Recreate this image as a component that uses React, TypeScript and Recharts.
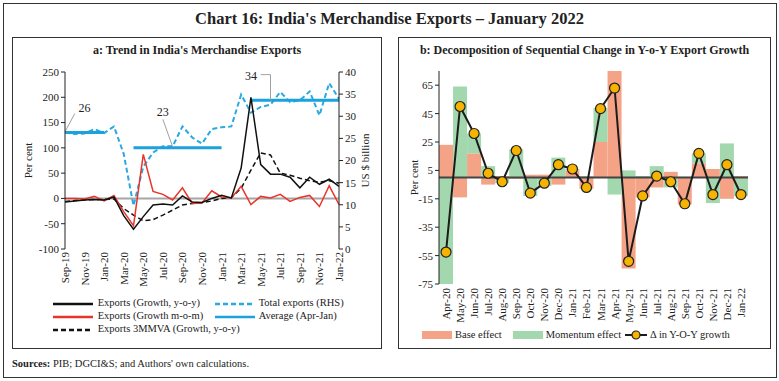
import {
  Bar,
  ComposedChart,
  Line,
  LineChart,
  ReferenceDot,
  ReferenceLine,
  XAxis,
  YAxis,
} from "recharts";

const FONT = '"Liberation Serif", "Times New Roman", serif';

// panel a: Sep-19 .. Jan-22
const trendMonths = [
  "Sep-19", "Oct-19", "Nov-19", "Dec-19", "Jan-20", "Feb-20", "Mar-20", "Apr-20",
  "May-20", "Jun-20", "Jul-20", "Aug-20", "Sep-20", "Oct-20", "Nov-20", "Dec-20",
  "Jan-21", "Feb-21", "Mar-21", "Apr-21", "May-21", "Jun-21", "Jul-21", "Aug-21",
  "Sep-21", "Oct-21", "Nov-21", "Dec-21", "Jan-22",
];
const growthYoy = [-7, -5, -3, -2, -3, 3, -34, -61, -36, -13, -11, -13, 5, -7, -8, 0, 6, 1, 60, 200, 67, 48, 48, 42, 21, 42, 28, 38, 24];
const growthMom = [0, 0, -1, 4, -5, 6, -26, -54, 87, 14, 8, -3, 21, -10, -9, 15, 3, 1, 24, -12, 4, 1, 8, -6, 2, 6, -16, 25, -12];
const growth3mmva = [-6, -4, -3, -2, -2, -1, -20, -33, -44, -42, -33, -23, -13, -10, -8, -5, 0, 2, 20, 56, 90, 86, 50, 46, 40, 35, 32, 35, 30];
const totalExports = [26.3, 26.0, 26.1, 27.1, 26.2, 27.7, 21.5, 9.8, 18.6, 21.8, 23.2, 23.2, 27.7, 25.2, 23.8, 27.1, 27.5, 27.7, 34.9, 30.8, 32.1, 32.6, 35.5, 33.2, 33.6, 35.6, 30.2, 37.5, 33.9];
const averageAprJan = [
  26.3, 26.3, 26.3, 26.3, 26.3, null, null,
  22.9, 22.9, 22.9, 22.9, 22.9, 22.9, 22.9, 22.9, 22.9, 22.9, null, null,
  33.6, 33.6, 33.6, 33.6, 33.6, 33.6, 33.6, 33.6, 33.6, 33.6,
];
const leftTicks = [-100, -50, 0, 50, 100, 150, 200, 250];
const rightTicks = [0, 5, 10, 15, 20, 25, 30, 35, 40];

// panel b: Apr-20 .. Jan-22
const decompMonths = [
  "Apr-20", "May-20", "Jun-20", "Jul-20", "Aug-20", "Sep-20", "Oct-20", "Nov-20",
  "Dec-20", "Jan-21", "Feb-21", "Mar-21", "Apr-21", "May-21", "Jun-21", "Jul-21",
  "Aug-21", "Sep-21", "Oct-21", "Nov-21", "Dec-21", "Jan-22",
];
const baseEffect = [23, -14, 17, -5, 1, -1, 2, 2, -5, 5, -8, 25, 75, -64, -14, -7, 4, -19, 10, 6, -15, 1];
const momentumEffect = [-75, 64, 14, 8, -4, 20, -13, -6, 14, 1, 1, 24, -12, 5, 1, 8, -7, 0.5, 7, -18, 24, -13];
const yoyChange = [-52.5, 50, 31, 3, -3, 19, -11, -4, 9, 6, -7, 48.5, 63, -59, -13, 1, -3, -18.5, 17, -12, 9, -12];
const decompTicks = [-75, -55, -35, -15, 5, 25, 45, 65];

const trendData = trendMonths.map((month, i) => ({
  month,
  yoy: growthYoy[i],
  mom: growthMom[i],
  mmva: growth3mmva[i],
  total: totalExports[i],
  average: averageAprJan[i],
}));

const decompData = decompMonths.map((month, i) => ({
  month,
  base: baseEffect[i],
  momentum: momentumEffect[i],
  delta: yoyChange[i],
}));

const tickStyle = { fontSize: 11, fill: "#222", fontFamily: FONT };

function RotatedTick(props: any) {
  const { x, y, payload } = props;
  return (
    <text
      x={x}
      y={y}
      transform={`rotate(-90 ${x} ${y})`}
      textAnchor="end"
      dominantBaseline="central"
      fontSize={11}
      fontFamily={FONT}
      fill="#222"
    >
      {payload.value}
    </text>
  );
}

function Swatch({ color, dash, width = 40, height = 2.5 }: any) {
  return (
    <svg width={width} height={10} style={{ verticalAlign: "middle" }}>
      <line x1={0} x2={width} y1={5} y2={5} stroke={color} strokeWidth={height} strokeDasharray={dash} />
    </svg>
  );
}

const annotation = { fontSize: 12, fill: "#222", fontFamily: FONT };

export default function App() {
  return (
    <div
      style={{
        position: "absolute",
        left: 0,
        top: 0,
        width: 779,
        height: 381,
        background: "#fff",
        fontFamily: FONT,
        color: "#222",
      }}
    >
      <div style={{ position: "absolute", left: 3, top: 3, width: 774, height: 375, border: "1.5px solid #333", boxSizing: "border-box" }} />
      <div style={{ position: "absolute", left: 0, top: 9, width: 779, textAlign: "center", fontWeight: "bold", fontSize: 16.5 }}>
        Chart 16: India's Merchandise Exports – January 2022
      </div>

      {/* panel a */}
      <div style={{ position: "absolute", left: 12, top: 37, width: 370, height: 312, border: "1px solid #333", boxSizing: "border-box" }} />
      <div style={{ position: "absolute", left: 12, top: 43, width: 370, textAlign: "center", fontWeight: "bold", fontSize: 12 }}>
        a: Trend in India's Merchandise Exports
      </div>
      <div style={{ position: "absolute", left: 12, top: 60 }}>
        <LineChart width={370} height={240} data={trendData} margin={{ top: 12, right: 0, bottom: 0, left: 0 }}>
          <XAxis
            dataKey="month"
            interval={1}
            tick={(p: any) => <RotatedTick {...p} />}
            tickLine={false}
            axisLine={false}
            height={51}
            tickSize={0}
            tickMargin={3}
          />
          <YAxis
            yAxisId="left"
            domain={[-100, 250]}
            ticks={leftTicks}
            width={53}
            tick={tickStyle}
            stroke="#222"
            tickSize={4}
            label={{ value: "Per cent", angle: -90, position: "center", dx: -10, style: tickStyle }}
          />
          <YAxis
            yAxisId="right"
            orientation="right"
            domain={[0, 40]}
            ticks={rightTicks}
            width={43}
            tick={tickStyle}
            stroke="#222"
            tickSize={4}
            label={{ value: "US $ billion", angle: -90, position: "center", dx: 5, style: tickStyle }}
          />
          <ReferenceLine yAxisId="left" y={0} stroke="#a6a6a6" strokeWidth={2} />
          <Line yAxisId="right" dataKey="total" stroke="#2aa9e0" strokeWidth={2} strokeDasharray="5 3" dot={false} isAnimationActive={false} />
          <Line yAxisId="right" dataKey="average" stroke="#1ba1dc" strokeWidth={3} dot={false} isAnimationActive={false} />
          <Line yAxisId="left" dataKey="mmva" stroke="#111" strokeWidth={1.5} strokeDasharray="5 3" dot={false} isAnimationActive={false} />
          <Line yAxisId="left" dataKey="mom" stroke="#e8352b" strokeWidth={1.5} dot={false} isAnimationActive={false} />
          <Line yAxisId="left" dataKey="yoy" stroke="#111" strokeWidth={1.5} dot={false} isAnimationActive={false} />

          <ReferenceLine yAxisId="right" segment={[{ x: "Oct-19", y: 30.6 }, { x: "Sep-19", y: 26.5 }]} stroke="#a0a0a0" />
          <ReferenceLine yAxisId="right" segment={[{ x: "Jul-20", y: 29.3 }, { x: "Aug-20", y: 23.1 }]} stroke="#a0a0a0" />
          <ReferenceLine yAxisId="right" segment={[{ x: "May-21", y: 39.4 }, { x: "Jun-21", y: 39.4 }]} stroke="#a0a0a0" />
          <ReferenceLine yAxisId="right" segment={[{ x: "Jun-21", y: 39.4 }, { x: "Jun-21", y: 33.6 }]} stroke="#a0a0a0" />
          <ReferenceDot yAxisId="right" x="Nov-19" y={31.9} r={0} fill="none" stroke="none" label={{ value: "26", position: "center", ...annotation }} />
          <ReferenceDot yAxisId="right" x="Jul-20" y={31.0} r={0} fill="none" stroke="none" label={{ value: "23", position: "center", ...annotation }} />
          <ReferenceDot yAxisId="right" x="Apr-21" y={39.2} r={0} fill="none" stroke="none" label={{ value: "34", position: "center", ...annotation }} />
        </LineChart>
      </div>
      <div style={{ position: "absolute", left: 53, top: 296, fontSize: 10.5, lineHeight: "13px" }}>
        <div><Swatch color="#111" /> <span style={{ marginLeft: 2 }}>Exports (Growth, y-o-y)</span></div>
        <div><Swatch color="#e8352b" /> <span style={{ marginLeft: 2 }}>Exports (Growth m-o-m)</span></div>
        <div><Swatch color="#111" dash="5 3" /> <span style={{ marginLeft: 2 }}>Exports 3MMVA (Growth, y-o-y)</span></div>
      </div>
      <div style={{ position: "absolute", left: 215, top: 296, fontSize: 10.5, lineHeight: "13px" }}>
        <div><Swatch color="#2aa9e0" dash="5 3" /> <span style={{ marginLeft: 1 }}>Total exports (RHS)</span></div>
        <div><Swatch color="#1ba1dc" /> <span style={{ marginLeft: 1 }}>Average (Apr-Jan)</span></div>
      </div>

      {/* panel b */}
      <div style={{ position: "absolute", left: 398, top: 37, width: 373, height: 312, border: "1px solid #333", boxSizing: "border-box" }} />
      <div style={{ position: "absolute", left: 398, top: 43, width: 373, textAlign: "center", fontWeight: "bold", fontSize: 12 }}>
        b: Decomposition of Sequential Change in Y-o-Y Export Growth
      </div>
      <div style={{ position: "absolute", left: 398, top: 60 }}>
        <ComposedChart
          width={373}
          height={266}
          data={decompData}
          margin={{ top: 11, right: 23, bottom: 0, left: 0 }}
          stackOffset="sign"
          barCategoryGap={0}
        >
          <XAxis
            dataKey="month"
            interval={0}
            tick={(p: any) => <RotatedTick {...p} />}
            tickLine={false}
            axisLine={false}
            height={42}
            tickSize={0}
            tickMargin={4}
          />
          <YAxis
            domain={[-75, 75]}
            ticks={decompTicks}
            allowDataOverflow
            width={41}
            tick={tickStyle}
            stroke="#222"
            tickSize={4}
            label={{ value: "Per cent", angle: -90, position: "center", dx: -4, style: tickStyle }}
          />
          <Bar dataKey="base" stackId="a" fill="#f4a387" isAnimationActive={false} />
          <Bar dataKey="momentum" stackId="a" fill="#a3d8ae" isAnimationActive={false} />
          <ReferenceLine y={0} stroke="#444" strokeWidth={2} />
          <Line
            dataKey="delta"
            stroke="#1c1c1c"
            strokeWidth={2}
            dot={{ r: 5, fill: "#f6b400", stroke: "#222", strokeWidth: 1.2 }}
            isAnimationActive={false}
          />
        </ComposedChart>
      </div>
      <div style={{ position: "absolute", left: 422, top: 328, fontSize: 10.5, lineHeight: "13px", display: "flex", alignItems: "center", whiteSpace: "nowrap" }}>
        <span style={{ display: "inline-block", width: 30, height: 8, background: "#f4a387" }} />
        <span style={{ marginLeft: 3 }}>Base effect</span>
        <span style={{ display: "inline-block", width: 30, height: 8, background: "#a3d8ae", marginLeft: 11 }} />
        <span style={{ marginLeft: 3 }}>Momentum effect</span>
        <svg width={22} height={12} style={{ marginLeft: 4 }}>
          <line x1={0} x2={22} y1={6} y2={6} stroke="#1c1c1c" strokeWidth={2} />
          <circle cx={11} cy={6} r={4} fill="#f6b400" stroke="#222" strokeWidth={1.2} />
        </svg>
        <span style={{ marginLeft: 3 }}>Δ in Y-O-Y growth</span>
      </div>

      <div style={{ position: "absolute", left: 12, top: 358, fontSize: 10.5 }}>
        <b>Sources:</b> PIB; DGCI&amp;S; and Authors' own calculations.
      </div>
    </div>
  );
}
